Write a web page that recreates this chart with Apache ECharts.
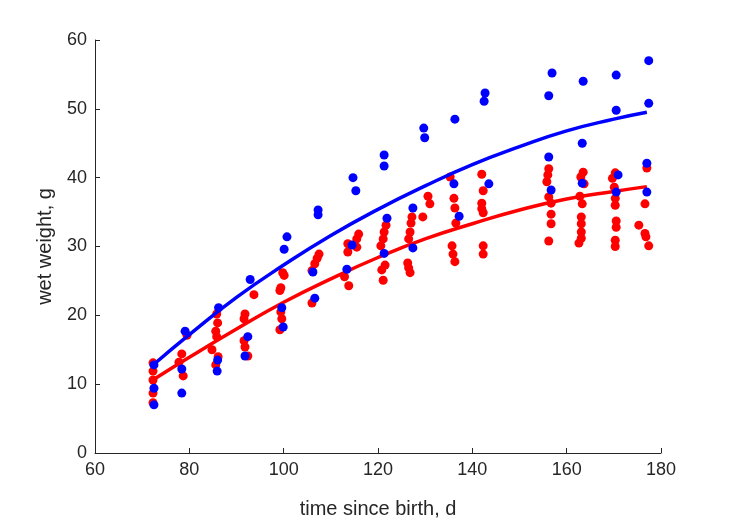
<!DOCTYPE html>
<html lang="en">
<head>
    <meta charset="UTF-8">
    <title>wet weight vs time</title>
    <script src="https://cdn.jsdelivr.net/npm/echarts@6/dist/echarts.min.js"></script>
    <style>
        html, body { margin: 0; padding: 0; background: #fff; }
        #main { width: 729px; height: 521px; }
    </style>
</head>
<body>
    <div id="main"></div>
    <script>
        // blue group: day / wet weight
        const blueDays = [
            72.5, 72.5, 72.5,
            79.1, 78.4, 78.4,
            86.2, 86.0, 85.9,
            92.9, 92.4, 91.8,
            100.7, 100.1, 99.6, 99.9,
            107.3, 107.3, 106.2, 106.6,
            114.7, 115.3, 114.5, 113.4,
            121.3, 121.3, 121.9, 121.3,
            127.4, 127.4,
            129.7, 129.9,
            136.3, 136.1, 137.2,
            142.7, 142.5, 143.5,
            156.9, 156.2, 156.2, 156.7,
            163.5, 163.3, 163.3,
            170.5, 170.5, 170.9, 170.5,
            177.4, 177.4, 177.0, 177.0
        ];
        const blueWeights = [
            12.8, 9.4, 7.0,
            17.7, 12.2, 8.7,
            21.1, 13.5, 11.9,
            25.2, 16.9, 14.1,
            31.4, 29.6, 21.1, 18.3,
            35.3, 34.6, 26.3, 22.5,
            40.0, 38.1, 30.2, 26.7,
            43.3, 41.7, 34.1, 29.0,
            35.6, 29.8,
            47.2, 45.8,
            48.5, 39.1, 34.4,
            52.3, 51.1, 39.1,
            55.2, 51.9, 43.0, 38.2,
            54.0, 45.0, 39.2,
            54.9, 49.8, 40.4, 37.9,
            57.0, 50.8, 42.1, 37.9
        ];

        // red group: day / wet weight
        const redDays = [
            72.3, 72.3, 72.3, 72.3, 72.3,
            79.5, 78.4, 77.8, 78.7,
            85.8, 86.0, 85.6, 85.8, 84.8, 86.1, 85.6,
            93.7, 91.8, 91.6, 91.6, 91.8, 92.4,
            99.8, 100.1, 99.4, 99.2, 99.4, 99.6, 99.2,
            107.5, 107.1, 106.6, 106.0, 106.0,
            115.9, 115.5, 113.6, 115.5, 113.6, 112.9, 113.8,
            121.7, 121.3, 121.1, 120.6, 121.5, 120.8, 121.1,
            127.2, 127.0, 126.8, 126.5, 126.3, 126.5, 126.8,
            130.6, 131.0, 129.5,
            135.3, 136.1, 136.3, 136.5, 135.7, 135.9, 136.3,
            142.0, 142.3, 142.0, 142.0, 142.3, 142.3, 142.3,
            156.2, 156.0, 155.8, 156.2, 156.7, 156.7, 156.7, 156.2,
            163.5, 163.0, 163.7, 162.8, 163.3, 163.1, 163.1, 163.1, 163.1, 162.6,
            170.3, 169.7, 170.1, 170.3, 170.3, 170.5, 170.5, 170.3, 170.3,
            177.0, 176.6, 175.3, 176.6, 176.8, 177.4
        ];
        const redWeights = [
            13.1, 11.9, 10.6, 8.7, 7.3,
            17.1, 14.4, 13.2, 11.2,
            20.2, 18.9, 17.7, 16.9, 15.0, 14.0, 12.8,
            23.0, 20.2, 19.5, 16.3, 15.4, 14.1,
            26.2, 25.8, 24.0, 23.6, 20.5, 19.5, 17.9,
            28.9, 28.3, 27.5, 26.5, 21.8,
            31.8, 31.1, 30.4, 29.9, 29.2, 25.6, 24.3,
            33.1, 32.1, 31.1, 30.1, 27.3, 26.6, 25.1,
            34.3, 33.4, 32.1, 31.1, 27.6, 26.9, 26.2,
            37.3, 36.2, 34.3,
            40.1, 37.0, 35.6, 33.4, 30.1, 28.9, 27.8,
            40.5, 38.1, 36.3, 35.5, 34.9, 30.1, 28.9,
            41.3, 40.4, 39.4, 37.2, 36.3, 34.7, 33.3, 30.8,
            40.8, 40.1, 39.1, 37.3, 36.2, 34.3, 33.3, 32.1, 31.2, 30.5,
            40.7, 39.9, 38.6, 37.0, 36.0, 33.7, 32.8, 30.9, 30.0,
            41.4, 36.2, 33.1, 31.9, 31.4, 30.1
        ];

        // fitted curves
        const fitDays = [72.5, 80, 90, 100, 110, 120, 130, 140, 150, 160, 170, 177];
        const blueFit = [12.9, 17.2, 22.6, 27.3, 31.6, 35.4, 38.8, 41.9, 44.5, 46.8, 48.5, 49.5];
        const redFit = [10.7, 13.9, 18.0, 21.9, 25.3, 28.4, 31.1, 33.3, 35.3, 36.9, 38.0, 38.7];

        const xTicks = [60, 80, 100, 120, 140, 160, 180];
        const yTicks = [0, 10, 20, 30, 40, 50, 60];

        const pair = (xs, ys) => xs.map((x, i) => [x, ys[i]]);

        const axisColor = '#262626';
        const font = 'Liberation Sans, Arial, Helvetica, sans-serif';

        let mychart = echarts.init(document.getElementById('main'));

        let options = {
            backgroundColor: '#fff',
            animation: false,
            grid: { left: 95, right: 68, top: 40, bottom: 68, outerBoundsMode: 'none' },
            xAxis: {
                type: 'value',
                min: xTicks[0],
                max: xTicks[xTicks.length - 1],
                interval: 20,
                name: 'time since birth, d',
                nameLocation: 'middle',
                nameGap: 46,
                nameTextStyle: { color: axisColor, fontSize: 20, fontFamily: font },
                axisLine: { lineStyle: { color: axisColor, width: 1 } },
                axisTick: { inside: true, length: 5, lineStyle: { color: axisColor } },
                axisLabel: { color: axisColor, fontSize: 18, fontFamily: font, margin: 8 },
                splitLine: { show: false }
            },
            yAxis: {
                type: 'value',
                min: yTicks[0],
                max: yTicks[yTicks.length - 1],
                interval: 10,
                name: 'wet weight, g',
                nameLocation: 'middle',
                nameGap: 40,
                nameTextStyle: { color: axisColor, fontSize: 20, fontFamily: font },
                axisLine: { show: true, lineStyle: { color: axisColor, width: 1 } },
                axisTick: { show: true, inside: true, length: 5, lineStyle: { color: axisColor } },
                axisLabel: { color: axisColor, fontSize: 18, fontFamily: font, margin: 8 },
                splitLine: { show: false }
            },
            series: [{
                name: 'red data',
                type: 'scatter',
                data: pair(redDays, redWeights),
                symbolSize: 9,
                itemStyle: { color: '#ff0000', opacity: 1 },
                z: 2
            }, {
                name: 'red fit',
                type: 'line',
                data: pair(fitDays, redFit),
                smooth: true,
                showSymbol: false,
                lineStyle: { color: '#ff0000', width: 3.5 },
                z: 3
            }, {
                name: 'blue fit',
                type: 'line',
                data: pair(fitDays, blueFit),
                smooth: true,
                showSymbol: false,
                lineStyle: { color: '#0000ff', width: 3.5 },
                z: 3
            }, {
                name: 'blue data',
                type: 'scatter',
                data: pair(blueDays, blueWeights),
                symbolSize: 9,
                itemStyle: { color: '#0000ff', opacity: 1 },
                z: 4
            }]
        };

        mychart.setOption(options);
    </script>
</body>
</html>
